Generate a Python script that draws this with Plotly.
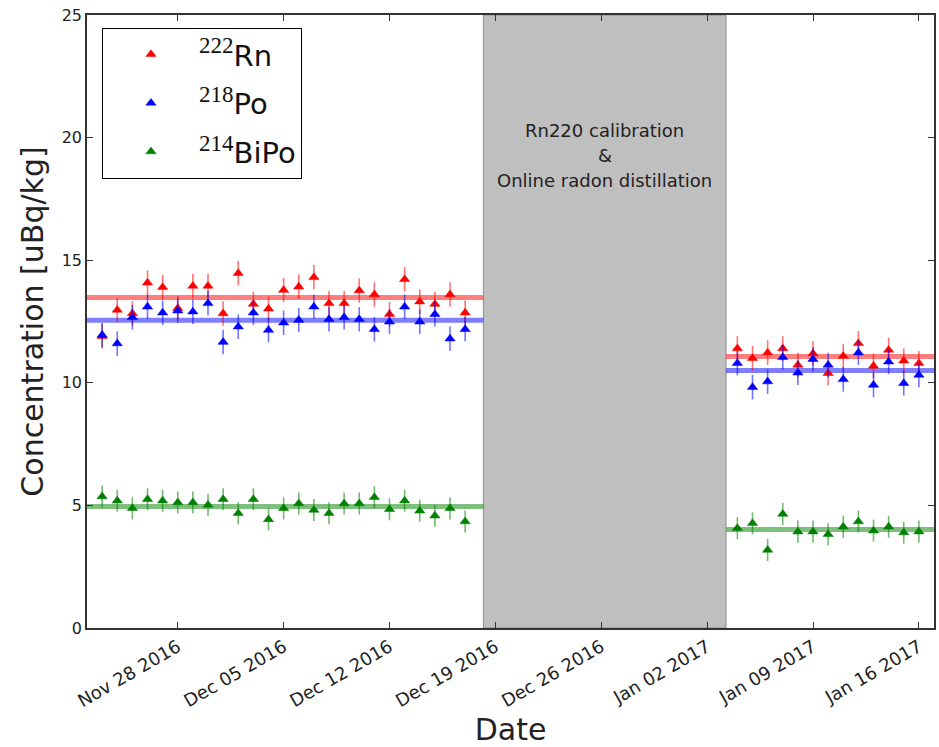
import plotly.graph_objects as go
import pandas as pd

# ---------------- data ----------------
dates1 = pd.date_range("2016-11-23", "2016-12-17", freq="D")
dates2 = pd.date_range("2017-01-04", "2017-01-16", freq="D")

rn1 = [11.9, 12.97, 12.83, 14.08, 13.9, 13.04, 13.95, 13.95, 12.83, 14.47, 13.21, 13.02, 13.78,
       13.92, 14.3, 13.24, 13.24, 13.76, 13.6, 12.8, 14.22, 13.31, 13.21, 13.6, 12.86]
po1 = [11.95, 11.6, 12.67, 13.1, 12.86, 12.94, 12.9, 13.24, 11.66, 12.29, 12.86, 12.15, 12.45,
       12.56, 13.1, 12.59, 12.67, 12.59, 12.18, 12.49, 13.1, 12.49, 12.8, 11.8, 12.18]
bi1 = [5.36, 5.19, 4.88, 5.25, 5.19, 5.12, 5.12, 5.02, 5.25, 4.68, 5.25, 4.43, 4.88,
       5.08, 4.81, 4.68, 5.08, 5.08, 5.33, 4.84, 5.19, 4.78, 4.58, 4.88, 4.34]

rn2 = [11.4, 11.0, 11.23, 11.4, 10.73, 11.2, 10.39, 11.09, 11.61, 10.69, 11.34, 10.9, 10.8]
po2 = [10.8, 9.82, 10.05, 11.04, 10.41, 10.96, 10.73, 10.14, 11.23, 9.91, 10.86, 9.98, 10.32]
bi2 = [4.07, 4.27, 3.18, 4.65, 3.93, 3.93, 3.82, 4.13, 4.34, 3.97, 4.13, 3.89, 3.93]

err_rn = 0.5
err_po = 0.5
err_bi = 0.45

mean1 = {"rn": 13.48, "po": 12.55, "bi": 4.96}
mean2 = {"rn": 11.07, "po": 10.5, "bi": 4.02}

x_start = "2016-11-22"
x_end = "2017-01-17"
gap_start = "2016-12-18 05:00"
gap_end = "2017-01-03 06:00"

tick_dates = ["2016-11-28", "2016-12-05", "2016-12-12", "2016-12-19",
              "2016-12-26", "2017-01-02", "2017-01-09", "2017-01-16"]
tick_text = ["Nov 28 2016", "Dec 05 2016", "Dec 12 2016", "Dec 19 2016",
             "Dec 26 2016", "Jan 02 2017", "Jan 09 2017", "Jan 16 2017"]

annot_lines = ["Rn220 calibration", "&", "Online radon distillation"]
annot_y = [20.31, 19.29, 18.27]

SUP = "<sup><span style='font-family:Liberation Serif;font-size:23px'>{}</span></sup>"
series = [
    ("rn", SUP.format("222") + "Rn", "red", "rgba(255,0,0,0.55)", rn1, rn2, err_rn),
    ("po", SUP.format("218") + "Po", "blue", "rgba(0,0,255,0.55)", po1, po2, err_po),
    ("bi", SUP.format("214") + "BiPo", "green", "rgba(0,128,0,0.55)", bi1, bi2, err_bi),
]

fig = go.Figure()

# mean lines
for key, name, col, rgba, v1, v2, e in series:
    fig.add_trace(go.Scatter(x=[x_start, gap_start], y=[mean1[key]] * 2, mode="lines",
                             line=dict(color=col, width=5), opacity=0.5, showlegend=False,
                             hoverinfo="skip"))
    fig.add_trace(go.Scatter(x=[gap_end, x_end], y=[mean2[key]] * 2, mode="lines",
                             line=dict(color=col, width=5), opacity=0.5, showlegend=False,
                             hoverinfo="skip"))

# points
for i, (key, name, col, rgba, v1, v2, e) in enumerate(series):
    xs = list(dates1) + list(dates2)
    ys = v1 + v2
    fig.add_trace(go.Scatter(
        x=xs, y=ys, mode="markers", name=name, legendgroup=key,
        marker=dict(symbol="triangle-up", size=9, color=col, line=dict(color=col, width=0.5)),
        error_y=dict(type="constant", value=e, color=rgba, thickness=1.6, width=0),
    ))

fig.add_shape(type="rect", xref="x", yref="paper", x0=gap_start, x1=gap_end, y0=0, y1=1,
              fillcolor="#bfbfbf", line=dict(color="#8c8c8c", width=1), layer="below")

mid = pd.Timestamp(gap_start) + (pd.Timestamp(gap_end) - pd.Timestamp(gap_start)) / 2
for t, yv in zip(annot_lines, annot_y):
    fig.add_annotation(x=mid, y=yv, text=t, showarrow=False,
                       font=dict(size=18, color="#222222", family="DejaVu Sans"))

fig.update_layout(
    width=939, height=747,
    margin=dict(l=87, r=3, t=15, b=119),
    paper_bgcolor="white", plot_bgcolor="white",
    font=dict(family="DejaVu Sans", color="black"),
    showlegend=True,
    legend=dict(x=0.0177, y=0.979, xanchor="left", yanchor="top",
                bordercolor="black", borderwidth=1, bgcolor="white",
                font=dict(size=29, family="DejaVu Sans", color="#111111"),
                traceorder="grouped", tracegroupgap=8, itemwidth=86),
)
fig.update_xaxes(
    type="date", range=[x_start, x_end],
    tickvals=tick_dates, ticktext=tick_text, tickangle=-30,
    ticks="inside", ticklen=6, tickcolor="#333333", mirror="ticks",
    showline=True, linecolor="#333333", linewidth=1.5, showgrid=False, zeroline=False,
    tickfont=dict(size=18, color="#222222"),
    title=dict(text="Date", font=dict(size=30, color="#222222"), standoff=12),
)
fig.update_yaxes(
    range=[0, 25], tickvals=[0, 5, 10, 15, 20, 25],
    ticks="inside", ticklen=6, tickcolor="#333333", mirror="ticks",
    showline=True, linecolor="#333333", linewidth=1.5, showgrid=False, zeroline=False,
    tickfont=dict(size=16, color="#222222"),
    title=dict(text="Concentration [uBq/kg]", font=dict(size=30, color="#222222"), standoff=9),
)

fig.write_html("out.html")
